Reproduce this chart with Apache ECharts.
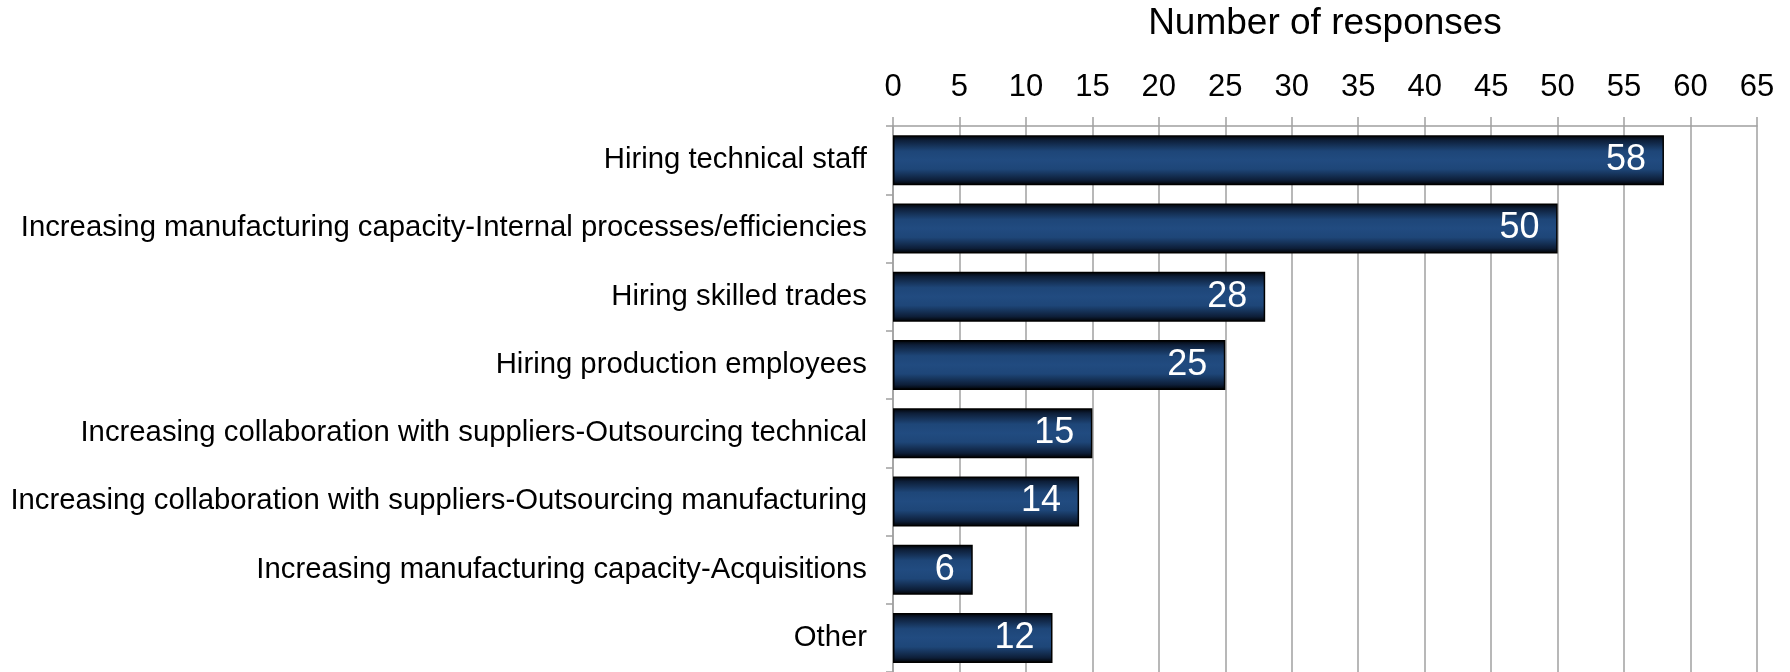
<!DOCTYPE html>
<html>
<head>
<meta charset="utf-8">
<script src="https://cdn.jsdelivr.net/npm/echarts@6/dist/echarts.min.js"></script>
<style>
  html, body { margin: 0; padding: 0; background: #ffffff; }
  #chart { width: 1790px; height: 672px; }
</style>
</head>
<body>
<div id="chart"></div>
<script>
// Survey answers, listed top to bottom
const categories = [
  'Hiring technical staff',
  'Increasing manufacturing capacity-Internal processes/efficiencies',
  'Hiring skilled trades',
  'Hiring production employees',
  'Increasing collaboration with suppliers-Outsourcing technical',
  'Increasing collaboration with suppliers-Outsourcing manufacturing',
  'Increasing manufacturing capacity-Acquisitions',
  'Other'
];
const responses = [58, 50, 28, 25, 15, 14, 6, 12];
const axisTitle = 'Number of responses';

const FONT = '"Liberation Sans", Arial, sans-serif';
const GRID_GREY = '#a0a0a0';

// Dark edges fading into navy in the middle of each bar
const barFill = new echarts.graphic.LinearGradient(0, 0, 0, 1, [
  { offset: 0.00, color: '#000000' },
  { offset: 0.10, color: '#0d1e38' },
  { offset: 0.32, color: '#1e4678' },
  { offset: 0.50, color: '#214b80' },
  { offset: 0.68, color: '#1e4678' },
  { offset: 0.90, color: '#0d1e38' },
  { offset: 1.00, color: '#000000' }
]);

const chart = echarts.init(document.getElementById('chart'), null, { renderer: 'canvas' });
chart.setOption({
  animation: false,
  backgroundColor: '#ffffff',
  textStyle: { fontFamily: FONT },
  grid: { left: 893, right: 33, top: 125, bottom: 0, containLabel: false },
  xAxis: {
    type: 'value',
    position: 'top',
    min: 0,
    max: 65,
    interval: 5,
    name: axisTitle,
    nameLocation: 'middle',
    nameGap: 84,
    nameTextStyle: { fontFamily: FONT, fontSize: 37, color: '#000000' },
    axisLine: { show: true, lineStyle: { color: GRID_GREY, width: 1.5 } },
    axisTick: { show: true, length: 9, lineStyle: { color: GRID_GREY, width: 1.5 } },
    axisLabel: { fontFamily: FONT, fontSize: 31, color: '#000000', margin: 23 },
    splitLine: { show: true, lineStyle: { color: GRID_GREY, width: 1.5 } }
  },
  yAxis: {
    type: 'category',
    inverse: true,
    data: categories,
    axisLine: { show: true, lineStyle: { color: GRID_GREY, width: 1.5 } },
    axisTick: { show: true, length: 7, lineStyle: { color: GRID_GREY, width: 1.5 } },
    axisLabel: { fontFamily: FONT, fontSize: 29.3, color: '#000000', margin: 26 },
    splitLine: { show: false }
  },
  series: [{
    type: 'bar',
    data: responses,
    barWidth: 50,
    itemStyle: { color: barFill, borderColor: '#000000', borderWidth: 1.5 },
    label: {
      show: true,
      position: 'insideRight',
      distance: 18,
      fontFamily: FONT,
      fontSize: 36,
      color: '#ffffff'
    }
  }]
});
</script>
</body>
</html>
